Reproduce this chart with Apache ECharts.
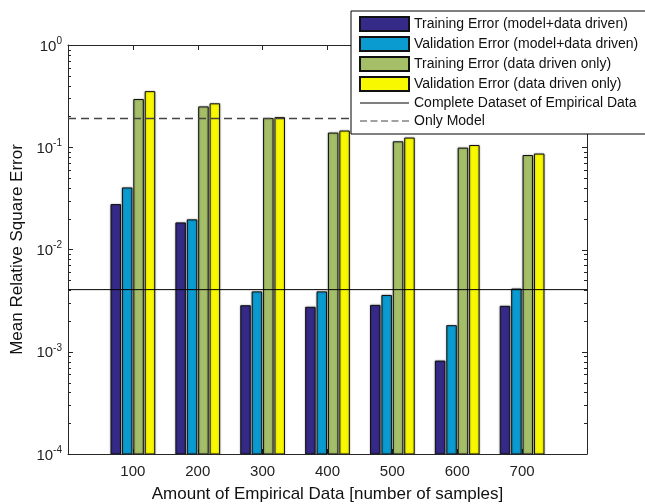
<!DOCTYPE html>
<html>
<head>
<meta charset="utf-8">
<script src="https://cdn.jsdelivr.net/npm/echarts@6/dist/echarts.min.js"></script>
<style>html,body{margin:0;padding:0;background:#fff}#c{width:645px;height:504px}</style>
</head>
<body>
<div id="c"></div>
<script>
// ---- data ----
const sampleCounts = [100, 200, 300, 400, 500, 600, 700];
const trainModelData = [0.0275, 0.0182, 0.00282, 0.00272, 0.00284, 0.00081, 0.00278];
const validModelData = [0.040, 0.0195, 0.00385, 0.00385, 0.00355, 0.0018, 0.0041];
const trainDataOnly = [0.293, 0.248, 0.191, 0.1375, 0.113, 0.098, 0.083];
const validDataOnly = [0.350, 0.266, 0.195, 0.144, 0.123, 0.104, 0.0858];
const completeDatasetLevel = 0.00405;
const onlyModelLevel = 0.191;
const seriesNames = [
  'Training Error (model+data driven)',
  'Validation Error (model+data driven)',
  'Training Error (data driven only)',
  'Validation Error (data driven only)',
  'Complete Dataset of Empirical Data',
  'Only Model'
];
const barColors = ['#352A87', '#0A9BD0', '#A5BE68', '#F8F800'];
const Y_MIN = 1e-4, Y_MAX = 1;
const X_MIN = 0, X_MAX = 800, X_STEP = 100;
const majorTickValues = [1e-4, 1e-3, 1e-2, 1e-1, 1];
const minorTickValues = [];
for (let d = -4; d < 0; d++) for (let k = 2; k <= 9; k++) minorTickValues.push(k * Math.pow(10, d));

const FONT = '"Liberation Sans", Arial, Helvetica, sans-serif';
const AX = '#262626';

const chart = echarts.init(document.getElementById('c'), null, {renderer: 'canvas'});

function pair(arr) { return sampleCounts.map((x, i) => [x, arr[i]]); }

const barSeries = [trainModelData, validModelData, trainDataOnly, validDataOnly].map((arr, i) => ({
  name: seriesNames[i],
  type: 'custom',
  xAxisIndex: 0, yAxisIndex: 0,
  data: pair(arr),
  itemStyle: {color: barColors[i], borderColor: '#111', borderWidth: 1},
  encode: {x: 0, y: 1},
  clip: true,
  renderItem: function (params, api) {
    const x = api.value(0), y = api.value(1);
    const a = api.coord([x - X_STEP / 2, y]);
    const b = api.coord([x + X_STEP / 2, y]);
    const band = b[0] - a[0];
    const slot = band * 0.1757;
    const w = band * 0.1464;
    const top = api.coord([x, y]);
    const base = api.coord([x, Y_MIN]);
    const cx = top[0] + (i - 1.5) * slot;
    return {
      type: 'rect',
      shape: {x: cx - w / 2, y: top[1], width: w, height: base[1] - top[1]},
      style: {
        fill: barColors[i], stroke: '#111', lineWidth: 1,
        shadowColor: 'rgba(0,0,0,0.35)', shadowBlur: 2
      }
    };
  },
  z: 2
}));

function hLineSeries(name, level, color, width, dash) {
  return {
    name: name,
    type: 'custom',
    xAxisIndex: 0, yAxisIndex: 0,
    data: [[X_MIN, level]],
    encode: {x: 0, y: 1},
    itemStyle: {color: color},
    clip: true,
    renderItem: function (params, api) {
      const p0 = api.coord([X_MIN, api.value(1)]);
      const p1 = api.coord([X_MAX, api.value(1)]);
      return {
        type: 'line',
        shape: {x1: p0[0], y1: p0[1], x2: p1[0], y2: p1[1]},
        style: {stroke: color, lineWidth: width, lineDash: dash}
      };
    },
    z: 3
  };
}

const lineSeries = [
  hLineSeries(seriesNames[4], completeDatasetLevel, '#000', 1, null),
  hLineSeries(seriesNames[5], onlyModelLevel, '#444', 1.3, [8, 5])
];

// minor ticks on both sides (length 3), major ticks on the right side (length 5)
const tickMarks = minorTickValues.map(v => [X_MIN, v, 3, 1]).concat(majorTickValues.map(v => [X_MIN, v, 5, 0]));
const tickSeries = {
  type: 'custom',
  silent: true,
  clip: false,
  xAxisIndex: 0, yAxisIndex: 0,
  data: tickMarks,
  encode: {x: 0, y: 1},
  renderItem: function (params, api) {
    const v = api.value(1);
    const len = api.value(2);
    const both = api.value(3) === 1;
    const pl = api.coord([X_MIN, v]);
    const pr = api.coord([X_MAX, v]);
    const yl = Math.round(pl[1]) + 0.5;
    const st = {stroke: AX, lineWidth: 1};
    const children = [
      {type: 'line', shape: {x1: pr[0], y1: yl, x2: pr[0] - len, y2: yl}, style: st}
    ];
    if (both) children.push({type: 'line', shape: {x1: pl[0], y1: yl, x2: pl[0] + len, y2: yl}, style: st});
    return {type: 'group', children: children};
  },
  z: 5
};

// legend icons for the two reference lines (thin bar centred in a 49x14 box)
const solidIcon = 'path://M0,0 M0,14 M0,6.5 H49 V7.5 H0 Z';
let dashedIcon = 'path://M0,0 M0,14';
for (let k = 0; k < 5; k++) {
  const s = k * 10.5;
  dashedIcon += ' M' + s + ',6.4 H' + (s + 7) + ' V7.6 H' + s + ' Z';
}
const legendData = seriesNames.map((n, i) => {
  if (i < 4) return {name: n, icon: 'rect'};
  return {name: n, icon: i === 4 ? solidIcon : dashedIcon, itemStyle: {borderWidth: 0}};
});

const option = {
  animation: false,
  backgroundColor: '#fff',
  textStyle: {fontFamily: FONT},
  grid: {left: 68, right: 58, top: 45, bottom: 50, containLabel: false, outerBoundsMode: 'none'},
  legend: {
    data: legendData,
    orient: 'vertical',
    left: 351, top: 11,
    itemWidth: 49, itemHeight: 14, itemGap: 4,
    padding: [5, 12, 6, 8],
    backgroundColor: '#fff',
    borderColor: '#000', borderWidth: 1,
    borderRadius: 0,
    selectedMode: false,
    textStyle: {fontFamily: FONT, fontSize: 14, color: '#111', lineHeight: 14},
    z: 10
  },
  xAxis: [
    {
      type: 'value', position: 'bottom', min: X_MIN, max: X_MAX, interval: X_STEP,
      name: 'Amount of Empirical Data [number of samples]',
      nameLocation: 'middle', nameGap: 32,
      nameTextStyle: {fontFamily: FONT, fontSize: 17, color: '#111'},
      axisLine: {show: true, lineStyle: {color: AX, width: 1}},
      axisTick: {show: true, inside: true, length: 5, lineStyle: {color: AX}},
      axisLabel: {
        fontFamily: FONT, fontSize: 15, color: '#222', margin: 10,
        formatter: v => (v === X_MIN || v === X_MAX) ? '' : String(v)
      },
      splitLine: {show: false}
    },
    {
      type: 'value', position: 'top', min: X_MIN, max: X_MAX, interval: X_STEP,
      axisLine: {show: true, lineStyle: {color: AX, width: 1}},
      axisTick: {show: true, inside: true, length: 5, lineStyle: {color: AX}},
      axisLabel: {show: false},
      splitLine: {show: false}
    }
  ],
  yAxis: [
    {
      type: 'log', logBase: 10, min: Y_MIN, max: Y_MAX, position: 'left',
      name: 'Mean Relative Square Error',
      nameLocation: 'middle', nameGap: 42, nameRotate: 90,
      nameTextStyle: {fontFamily: FONT, fontSize: 17, color: '#111'},
      axisLine: {show: true, lineStyle: {color: AX, width: 1}},
      axisTick: {show: true, inside: true, length: 5, lineStyle: {color: AX}},
      axisLabel: {
        margin: 6,
        formatter: function (v) {
          const e = Math.round(Math.log10(v));
          return '{b|10}{s|' + e + '}';
        },
        rich: {
          b: {fontFamily: FONT, fontSize: 15, color: '#222', verticalAlign: 'bottom'},
          s: {fontFamily: FONT, fontSize: 10, color: '#222', verticalAlign: 'bottom', padding: [0, 0, 8, 0]}
        }
      },
      splitLine: {show: false}
    },
    {
      type: 'value', min: 0, max: 1, position: 'right',
      axisLine: {show: true, onZero: false, lineStyle: {color: AX, width: 1}},
      axisTick: {show: false},
      axisLabel: {show: false},
      splitLine: {show: false}
    }
  ],
  series: barSeries.concat(lineSeries, [tickSeries])
};

chart.setOption(option);
</script>
</body>
</html>
